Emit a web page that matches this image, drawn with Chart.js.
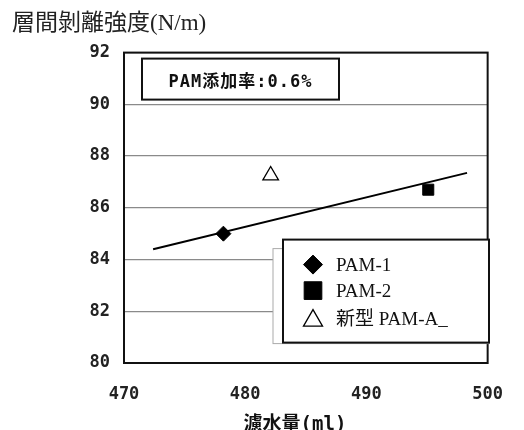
<!DOCTYPE html>
<html>
<head>
<meta charset="utf-8">
<script src="https://cdn.jsdelivr.net/npm/chart.js@4"></script>
<style>
  html, body { margin: 0; padding: 0; background: #fff; }
</style>
</head>
<body>
<canvas id="myChart" width="524" height="430"></canvas>
<script>
// Chart data
const chartTitle = '層間剝離強度(N/m)';
const xAxisTitle = '濾水量(ml)';
const noteText = 'PAM添加率:0.6%';
const seriesNames = ['PAM-1', 'PAM-2', '新型 PAM-A_'];
const seriesX = [478.2, 495.1, 482.1];
const seriesY = [85.0, 86.7, 87.25];
const trendX = [472.4, 498.3];
const trendY = [84.4, 87.35];
const xTicks = [470, 480, 490, 500];
const yTicks = [80, 82, 84, 86, 88, 90, 92];

const tickFont = { family: '"DejaVu Sans Mono", monospace', size: 17, weight: 'bold' };

// marker look per series (plot size, legend size)
const markers = [
    { pointStyle: 'rectRot', radius: 7.5, legendRadius: 9.5, fill: '#000', borderWidth: 1 },
    { pointStyle: 'rect', radius: 7.8, legendRadius: 12.5, fill: '#000', borderWidth: 1 },
    { pointStyle: 'triangle', radius: 9, legendRadius: 11, fill: '#fff', borderWidth: 1.3 }
];

let datasets = [{
    label: 'trend',
    data: trendX.map((x, i) => ({ x: x, y: trendY[i] })),
    showLine: true,
    borderColor: '#000',
    borderWidth: 2,
    pointRadius: 0,
    order: 1
}];

seriesNames.forEach((name, i) => {
    let m = markers[i];
    datasets.push({
        label: name,
        data: [{ x: seriesX[i], y: seriesY[i] }],
        pointStyle: m.pointStyle,
        pointRadius: m.radius,
        pointBackgroundColor: m.fill,
        pointBorderColor: '#000',
        pointBorderWidth: m.borderWidth,
        showLine: false,
        order: 0
    });
});

// annotation box, legend box, frame and x title
const overlay = {
    id: 'overlay',
    afterDraw(chart) {
        const { ctx, chartArea: a } = chart;
        ctx.save();

        // plot frame
        ctx.strokeStyle = '#111';
        ctx.lineWidth = 2;
        ctx.strokeRect(a.left, a.top, a.right - a.left, a.bottom - a.top);

        // note box
        let nx = a.left + 18, ny = a.top + 6, nw = 197, nh = 41;
        ctx.fillStyle = '#fff';
        ctx.fillRect(nx, ny, nw, nh);
        ctx.strokeRect(nx, ny, nw, nh);
        ctx.fillStyle = '#111';
        ctx.font = 'bold 17px "DejaVu Sans Mono", "Noto Sans CJK JP", monospace';
        ctx.letterSpacing = '1px';
        ctx.textAlign = 'center';
        ctx.textBaseline = 'middle';
        ctx.fillText(noteText, nx + nw / 2, ny + nh / 2 + 3);
        ctx.letterSpacing = '0px';

        // ghost box behind legend
        let lx = a.left + 159, ly = a.top + 187, lw = 206, lh = 103;
        ctx.fillStyle = '#fff';
        ctx.fillRect(lx - 10, ly + 9, lw + 10, lh - 8);
        ctx.strokeStyle = '#aaa';
        ctx.lineWidth = 1;
        ctx.strokeRect(lx - 10, ly + 9, lw + 10, lh - 8);

        // legend box
        ctx.fillRect(lx, ly, lw, lh);
        ctx.strokeStyle = '#111';
        ctx.lineWidth = 2;
        ctx.strokeRect(lx, ly, lw, lh);

        ctx.font = '19px "Liberation Serif", "Noto Sans CJK JP", serif';
        ctx.textAlign = 'left';
        ctx.textBaseline = 'middle';
        let rows = [25, 51, 79];
        seriesNames.forEach((name, i) => {
            let m = markers[i];
            let y = ly + rows[i];
            ctx.fillStyle = m.fill;
            ctx.strokeStyle = '#000';
            ctx.lineWidth = m.borderWidth;
            Chart.helpers.drawPoint(ctx, {
                pointStyle: m.pointStyle,
                radius: m.legendRadius,
                rotation: 0,
                borderWidth: m.borderWidth
            }, lx + 30, y + (m.pointStyle === 'triangle' ? 2 : 0));
            ctx.fillStyle = '#111';
            ctx.fillText(name, lx + 53, y + 1);
        });

        // x axis title
        ctx.font = 'bold 19px "DejaVu Sans Mono", "Noto Sans CJK JP", monospace';
        ctx.textAlign = 'center';
        ctx.textBaseline = 'top';
        ctx.fillStyle = '#111';
        ctx.fillText(xAxisTitle, a.left + 171, 416);

        ctx.restore();
    }
};

let ctx = document.getElementById('myChart').getContext('2d');
window.myChart = new Chart(ctx, {
    type: 'scatter',
    data: { datasets: datasets },
    plugins: [overlay],
    options: {
        responsive: false,
        animation: false,
        layout: { padding: { left: 12, right: 19, top: 0, bottom: 0 } },
        plugins: {
            legend: { display: false },
            tooltip: { enabled: false },
            title: {
                display: true,
                text: chartTitle,
                align: 'start',
                color: '#222',
                font: { family: '"Liberation Serif", "Noto Sans CJK JP", serif', size: 23, weight: 'normal' },
                padding: { top: 10, bottom: 15 }
            }
        },
        scales: {
            x: {
                type: 'linear',
                min: xTicks[0],
                max: xTicks[xTicks.length - 1],
                afterBuildTicks: s => { s.ticks = xTicks.map(v => ({ value: v })); },
                afterFit: s => { s.height = 67; },
                grid: { display: false, drawTicks: false },
                border: { display: false },
                ticks: { color: '#222', font: tickFont, padding: 21, maxRotation: 0 }
            },
            y: {
                type: 'linear',
                min: yTicks[0],
                max: yTicks[yTicks.length - 1],
                afterBuildTicks: s => { s.ticks = yTicks.map(v => ({ value: v })); },
                afterFit: s => { s.width = 112; },
                grid: { color: '#8a8a8a', lineWidth: 1.2, drawTicks: false },
                border: { display: false },
                ticks: { color: '#222', font: tickFont, padding: 14 }
            }
        }
    }
});
</script>
</body>
</html>
